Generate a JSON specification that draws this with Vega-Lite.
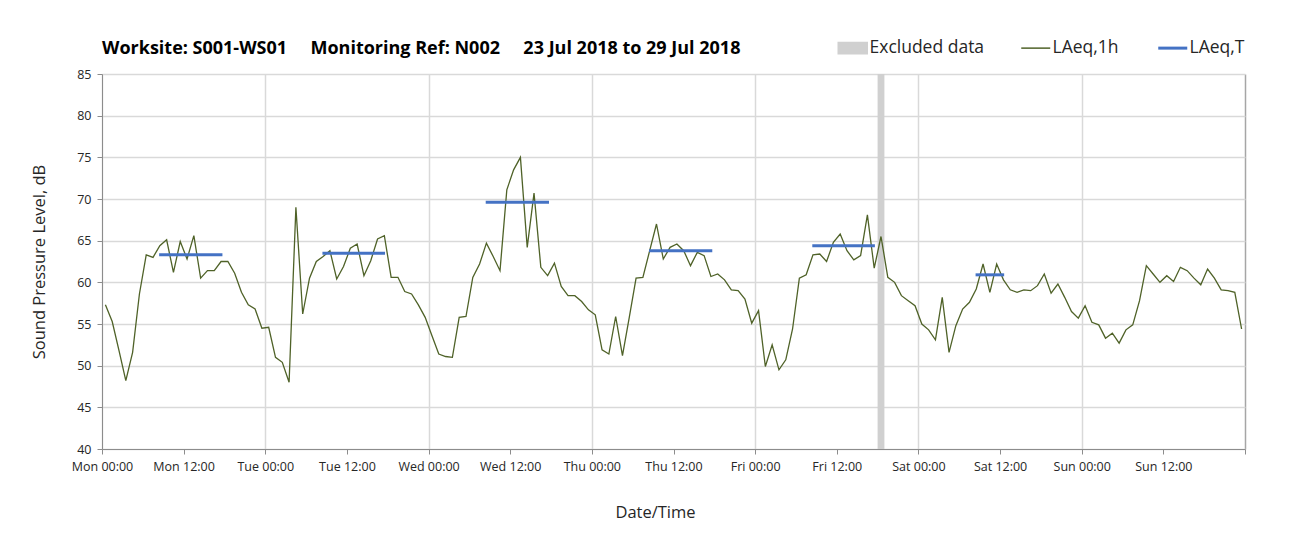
{
  "$schema": "https://vega.github.io/schema/vega-lite/v6.json",
  "width": 1143,
  "height": 375,
  "autosize": {"type": "none"},
  "padding": {"left": 102, "top": 74, "right": 62, "bottom": 99},
  "background": "white",
  "config": {
    "view": {"stroke": null},
    "font": "Open Sans",
    "axis": {"labelFont": "Open Sans", "titleFont": "Open Sans", "labelColor": "#262626", "titleColor": "#262626", "titleFontWeight": "normal"}
  },
  "title": {
    "text": "Worksite: S001-WS01\u00a0\u00a0\u00a0\u00a0\u00a0Monitoring Ref: N002\u00a0\u00a0\u00a0\u00a0\u00a023 Jul 2018 to 29 Jul 2018",
    "anchor": "start",
    "frame": "group",
    "font": "Open Sans",
    "fontSize": 18,
    "fontWeight": "bold",
    "color": "#000000",
    "offset": -19
  },
  "datasets": {
    "hourly": [
      {"h":0.5,"v":57.3},{"h":1.5,"v":55.3},{"h":2.5,"v":51.8},{"h":3.5,"v":48.2},{"h":4.5,"v":51.6},{"h":5.5,"v":58.6},{"h":6.5,"v":63.3},{"h":7.5,"v":63.0},{"h":8.5,"v":64.4},{"h":9.5,"v":65.1},{"h":10.5,"v":61.2},{"h":11.5,"v":64.9},{"h":12.5,"v":62.8},{"h":13.5,"v":65.6},{"h":14.5,"v":60.5},{"h":15.5,"v":61.4},{"h":16.5,"v":61.4},{"h":17.5,"v":62.5},{"h":18.5,"v":62.5},{"h":19.5,"v":61.1},{"h":20.5,"v":58.8},{"h":21.5,"v":57.3},{"h":22.5,"v":56.8},{"h":23.5,"v":54.5},
      {"h":24.5,"v":54.6},{"h":25.5,"v":51.0},{"h":26.5,"v":50.4},{"h":27.5,"v":48.0},{"h":28.5,"v":69.0},{"h":29.5,"v":56.2},{"h":30.5,"v":60.5},{"h":31.5,"v":62.5},{"h":32.5,"v":63.1},{"h":33.5,"v":63.8},{"h":34.5,"v":60.4},{"h":35.5,"v":61.9},{"h":36.5,"v":64.1},{"h":37.5,"v":64.6},{"h":38.5,"v":60.8},{"h":39.5,"v":62.6},{"h":40.5,"v":65.2},{"h":41.5,"v":65.6},{"h":42.5,"v":60.6},{"h":43.5,"v":60.6},{"h":44.5,"v":58.9},{"h":45.5,"v":58.6},{"h":46.5,"v":57.3},{"h":47.5,"v":55.8},
      {"h":48.5,"v":53.6},{"h":49.5,"v":51.4},{"h":50.5,"v":51.1},{"h":51.5,"v":51.0},{"h":52.5,"v":55.8},{"h":53.5,"v":55.9},{"h":54.5,"v":60.6},{"h":55.5,"v":62.2},{"h":56.5,"v":64.7},{"h":57.5,"v":63.1},{"h":58.5,"v":61.4},{"h":59.5,"v":71.1},{"h":60.5,"v":73.5},{"h":61.5,"v":75.0},{"h":62.5,"v":64.2},{"h":63.5,"v":70.7},{"h":64.5,"v":61.8},{"h":65.5,"v":60.8},{"h":66.5,"v":62.3},{"h":67.5,"v":59.5},{"h":68.5,"v":58.4},{"h":69.5,"v":58.4},{"h":70.5,"v":57.7},{"h":71.5,"v":56.7},
      {"h":72.5,"v":56.1},{"h":73.5,"v":51.9},{"h":74.5,"v":51.4},{"h":75.5,"v":55.9},{"h":76.5,"v":51.2},{"h":77.5,"v":55.8},{"h":78.5,"v":60.5},{"h":79.5,"v":60.6},{"h":80.5,"v":63.8},{"h":81.5,"v":67.0},{"h":82.5,"v":62.8},{"h":83.5,"v":64.2},{"h":84.5,"v":64.6},{"h":85.5,"v":63.8},{"h":86.5,"v":62.0},{"h":87.5,"v":63.6},{"h":88.5,"v":63.2},{"h":89.5,"v":60.7},{"h":90.5,"v":61.0},{"h":91.5,"v":60.3},{"h":92.5,"v":59.1},{"h":93.5,"v":59.0},{"h":94.5,"v":58.0},{"h":95.5,"v":55.1},
      {"h":96.5,"v":56.6},{"h":97.5,"v":49.9},{"h":98.5,"v":52.5},{"h":99.5,"v":49.5},{"h":100.5,"v":50.7},{"h":101.5,"v":54.4},{"h":102.5,"v":60.5},{"h":103.5,"v":60.9},{"h":104.5,"v":63.3},{"h":105.5,"v":63.4},{"h":106.5,"v":62.5},{"h":107.5,"v":64.8},{"h":108.5,"v":65.8},{"h":109.5,"v":63.8},{"h":110.5,"v":62.7},{"h":111.5,"v":63.2},{"h":112.5,"v":68.1},{"h":113.5,"v":61.7},{"h":114.5,"v":65.5},{"h":115.5,"v":60.6},{"h":116.5,"v":60.0},{"h":117.5,"v":58.4},{"h":118.5,"v":57.8},{"h":119.5,"v":57.2},
      {"h":120.5,"v":55.0},{"h":121.5,"v":54.3},{"h":122.5,"v":53.1},{"h":123.5,"v":58.2},{"h":124.5,"v":51.6},{"h":125.5,"v":54.8},{"h":126.5,"v":56.8},{"h":127.5,"v":57.6},{"h":128.5,"v":59.2},{"h":129.5,"v":62.2},{"h":130.5,"v":58.8},{"h":131.5,"v":62.2},{"h":132.5,"v":60.3},{"h":133.5,"v":59.1},{"h":134.5,"v":58.8},{"h":135.5,"v":59.1},{"h":136.5,"v":59.0},{"h":137.5,"v":59.6},{"h":138.5,"v":61.0},{"h":139.5,"v":58.7},{"h":140.5,"v":59.8},{"h":141.5,"v":58.2},{"h":142.5,"v":56.5},{"h":143.5,"v":55.7},
      {"h":144.5,"v":57.2},{"h":145.5,"v":55.2},{"h":146.5,"v":54.9},{"h":147.5,"v":53.3},{"h":148.5,"v":53.9},{"h":149.5,"v":52.7},{"h":150.5,"v":54.3},{"h":151.5,"v":54.9},{"h":152.5,"v":57.8},{"h":153.5,"v":62.0},{"h":154.5,"v":61.0},{"h":155.5,"v":60.0},{"h":156.5,"v":60.8},{"h":157.5,"v":60.1},{"h":158.5,"v":61.8},{"h":159.5,"v":61.4},{"h":160.5,"v":60.5},{"h":161.5,"v":59.7},{"h":162.5,"v":61.6},{"h":163.5,"v":60.5},{"h":164.5,"v":59.1},{"h":165.5,"v":59.0},{"h":166.5,"v":58.8},{"h":167.5,"v":54.4}
    ],
    "periods": [
      {"start":8.4,"end":17.7,"level":63.3},
      {"start":32.4,"end":41.6,"level":63.5},
      {"start":56.4,"end":65.7,"level":69.6},
      {"start":80.4,"end":89.7,"level":63.8},
      {"start":104.4,"end":113.6,"level":64.4},
      {"start":128.4,"end":132.6,"level":60.9}
    ],
    "excluded": [
      {"from":114,"to":115}
    ]
  },
  "layer": [
    {
      "data": {"name": "excluded"},
      "mark": {"type": "rect"},
      "encoding": {
        "x": {
          "field": "from", "type": "quantitative",
          "scale": {"domain": [0, 168], "nice": false, "zero": false},
          "axis": {
            "values": [0,12,24,36,48,60,72,84,96,108,120,132,144,156,168],
            "labelExpr": "datum.value >= 168 ? '' : ['Mon','Tue','Wed','Thu','Fri','Sat','Sun'][floor(datum.value/24)] + (datum.value % 24 === 0 ? ' 00:00' : ' 12:00')",
            "labelFontSize": 12.5,
            "labelPadding": 6,
            "labelFlush": false,
            "labelOverlap": false,
            "tickSize": 5,
            "tickColor": "#8c8c8c",
            "domainColor": "#8c8c8c",
            "grid": true,
            "gridColor": {"condition": {"test": "datum.value >= 168", "value": "#a6a6a6"}, "value": "#d9d9d9"},
            "gridOpacity": {"condition": {"test": "datum.value % 24 === 0", "value": 1}, "value": 0},
            "gridWidth": 1.5,
            "title": "Date/Time",
            "titleFontSize": 16.5,
            "titlePadding": 32,
            "titleX": 553
          }
        },
        "x2": {"field": "to"},
        "color": {
          "datum": "Excluded data",
          "type": "nominal",
          "scale": {"domain": ["Excluded data", "LAeq,1h", "LAeq,T"], "range": ["#d0d0d0", "#4F6228", "#4472C4"]},
          "legend": {
            "orient": "none",
            "legendX": 742,
            "legendY": -35,
            "direction": "horizontal",
            "title": null,
            "labelFont": "Open Sans",
            "labelFontSize": 17.5,
            "labelColor": "#262626",
            "labelOffset": 8,
            "symbolSize": 841,
            "columnPadding": 33,
            "encode": {
              "symbols": {
                "update": {
                  "shape": {"signal": "datum.value === 'Excluded data' ? 'M-1,-0.39H1V0.39H-1Z' : 'stroke'"},
                  "fill": {"signal": "datum.value === 'Excluded data' ? '#d0d0d0' : 'transparent'"},
                  "stroke": {"signal": "datum.value === 'LAeq,1h' ? '#4F6228' : (datum.value === 'LAeq,T' ? '#4472C4' : 'transparent')"},
                  "strokeWidth": {"signal": "datum.value === 'LAeq,T' ? 3 : 1.5"},
                  "opacity": {"value": 1}
                }
              }
            }
          }
        }
      }
    },
    {
      "data": {"name": "hourly"},
      "mark": {"type": "line", "strokeWidth": 1.3},
      "encoding": {
        "x": {"field": "h", "type": "quantitative"},
        "y": {
          "field": "v", "type": "quantitative",
          "scale": {"domain": [40, 85], "nice": false, "zero": false},
          "axis": {
            "values": [40,45,50,55,60,65,70,75,80,85],
            "labelFontSize": 12.5,
            "labelPadding": 6,
            "tickSize": 5,
            "tickColor": "#8c8c8c",
            "domainColor": "#8c8c8c",
            "gridColor": "#d9d9d9",
            "gridWidth": 1.5,
            "title": "Sound Pressure Level, dB",
            "titleFontSize": 16.5,
            "titlePadding": 29
          }
        },
        "color": {"datum": "LAeq,1h", "type": "nominal"}
      }
    },
    {
      "data": {"name": "periods"},
      "mark": {"type": "rule", "strokeWidth": 3},
      "encoding": {
        "x": {"field": "start", "type": "quantitative"},
        "x2": {"field": "end"},
        "y": {"field": "level", "type": "quantitative"},
        "color": {"datum": "LAeq,T", "type": "nominal"}
      }
    }
  ]
}
